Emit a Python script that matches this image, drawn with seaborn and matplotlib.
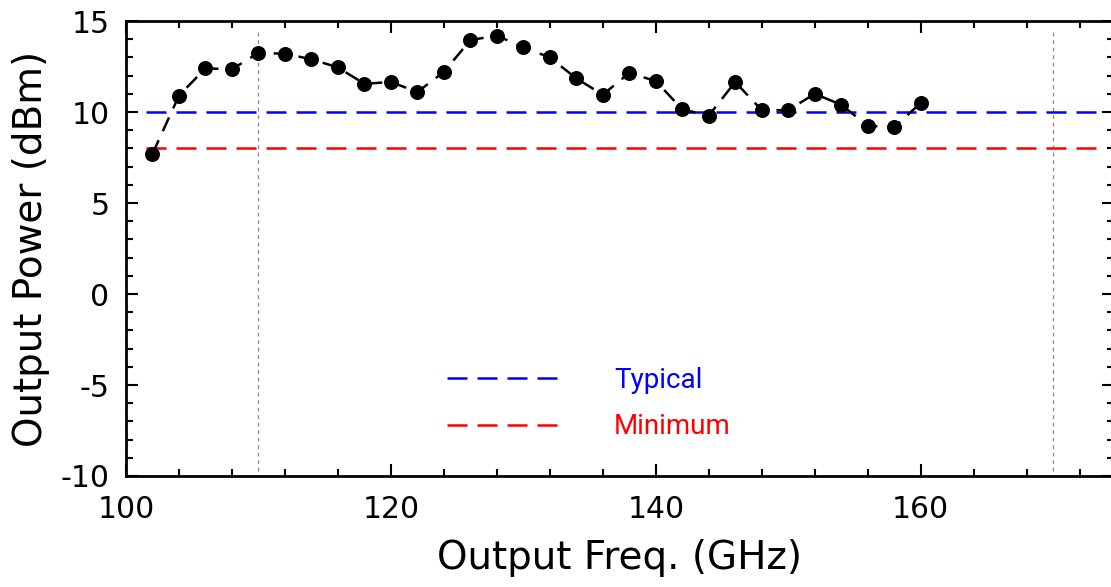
import numpy as np
import pandas as pd
import seaborn as sns
import matplotlib.pyplot as plt
from matplotlib.ticker import MultipleLocator

# measured output power vs frequency
freq = [102, 104, 106, 108, 110, 112, 114, 116, 118, 120,
        122, 124, 126, 128, 130, 132, 134, 136, 138, 140,
        142, 144, 146, 148, 150, 152, 154, 156, 158, 160]
power = [7.7, 10.9, 12.4, 12.35, 13.25, 13.2, 12.9, 12.45, 11.55, 11.65,
         11.1, 12.2, 13.95, 14.2, 13.55, 13.0, 11.85, 10.95, 12.15, 11.7,
         10.15, 9.8, 11.65, 10.1, 10.1, 11.0, 10.4, 9.25, 9.15, 10.5]

# spec levels (dBm) and the span they are drawn over
typical_level = 10
minimum_level = 8
spec_span = [101.5, 173.3]

# band edges (GHz)
band_edges = [110, 170]

dt = pd.DataFrame({"freq": freq, "power": power})

sns.set_theme(style="ticks")
plt.rcParams['font.family'] = ['DejaVu Sans']
plt.rcParams['axes.unicode_minus'] = False
plt.rcParams['text.color'] = 'black'
plt.rcParams['axes.labelcolor'] = 'black'
plt.rcParams['xtick.color'] = 'black'
plt.rcParams['ytick.color'] = 'black'

fig = plt.figure(figsize=(11.11, 5.87), dpi=100)
ax = fig.add_axes([0.1134, 0.1891, 0.8893, 0.7751])

for edge in band_edges:
    ax.axvline(edge, ymin=0.01, ymax=0.975, color="#888888", lw=0.9,
               linestyle=(0, (3, 3)))

ax.plot(spec_span, [typical_level, typical_level], color="#0000ff", lw=1.8,
        linestyle=(0, (8, 4)), label="Typical")
ax.plot(spec_span, [minimum_level, minimum_level], color="#ff0000", lw=1.8,
        linestyle=(0, (8, 4)), label="Minimum")

sns.lineplot(x="freq", y="power", data=dt, ax=ax, color="black", lw=1.8,
             linestyle=(0, (6, 4)), marker="o", markersize=10,
             markeredgecolor="black", markerfacecolor="black")

ax.set_xlim(100, 174.6)
ax.set_ylim(-10, 15)
ax.xaxis.set_major_locator(MultipleLocator(20))
ax.xaxis.set_minor_locator(MultipleLocator(4))
ax.yaxis.set_major_locator(MultipleLocator(5))
ax.yaxis.set_minor_locator(MultipleLocator(1))
ax.tick_params(which="both", direction="in", top=True, right=True,
               width=1.5, color="black", labelcolor="black")
ax.tick_params(which="major", length=8.5, labelsize=21.5)
ax.tick_params(which="minor", length=5)
ax.tick_params(axis="x", which="major", pad=14)
ax.tick_params(axis="y", which="major", pad=12)
for s in ax.spines.values():
    s.set_linewidth(2)
    s.set_color("black")

ax.set_xlabel("Output Freq. (GHz)", fontsize=28, color="black")
ax.set_ylabel("Output Power (dBm)", fontsize=28, color="black")
ax.xaxis.set_label_coords(0.5, -0.138)
ax.yaxis.set_label_coords(-0.077, 0.5)

leg = ax.legend(loc="upper left", bbox_to_anchor=(0.3, 0.295), frameon=False,
                handlelength=4.2, handletextpad=1.8, labelspacing=0.7,
                prop={"family": ["Roboto", "DejaVu Sans"], "size": 20})
for txt, line in zip(leg.get_texts(), leg.get_lines()):
    txt.set_color(line.get_color())

plt.savefig("out.png", dpi=100)
